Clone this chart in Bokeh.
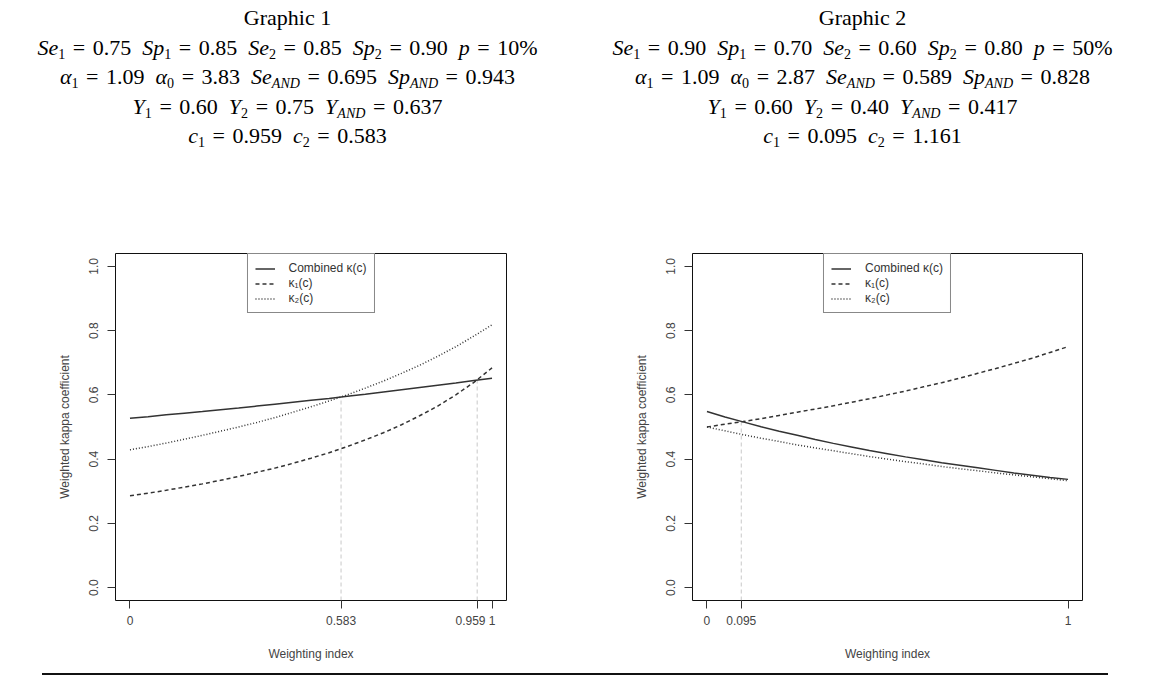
from bokeh.plotting import figure
from bokeh.models import Div, FixedTicker, Range1d, Legend, LegendItem
from bokeh.layouts import column, row
from bokeh.embed import file_html
from bokeh.resources import INLINE

# ---------------- data ----------------
c_grid = [0.00, 0.05, 0.10, 0.15, 0.20, 0.25, 0.30, 0.35, 0.40, 0.45, 0.50,
          0.55, 0.60, 0.65, 0.70, 0.75, 0.80, 0.85, 0.90, 0.95, 1.00]

g1_combined = [0.527, 0.532, 0.538, 0.543, 0.548, 0.554, 0.559, 0.565, 0.571, 0.577, 0.583,
               0.589, 0.596, 0.602, 0.609, 0.616, 0.623, 0.630, 0.637, 0.645, 0.652]
g1_kappa1 = [0.286, 0.294, 0.303, 0.313, 0.323, 0.334, 0.346, 0.359, 0.372, 0.387, 0.403,
             0.420, 0.439, 0.460, 0.482, 0.507, 0.535, 0.565, 0.600, 0.639, 0.684]
g1_kappa2 = [0.429, 0.439, 0.450, 0.462, 0.474, 0.487, 0.500, 0.514, 0.529, 0.546, 0.563,
             0.581, 0.600, 0.621, 0.643, 0.667, 0.692, 0.720, 0.750, 0.783, 0.818]
g1_cross_c = [0.583, 0.959]
g1_cross_k = [0.594, 0.646]
g1_xticks = [0.0, 0.583, 0.959, 1.0]
g1_xlabels = ["0", "0.583", "0.959\u00a0\u00a0\u00a0\u00a0", "1"]

g2_combined = [0.548, 0.531, 0.516, 0.501, 0.487, 0.474, 0.461, 0.449, 0.438, 0.427, 0.417,
               0.407, 0.398, 0.389, 0.381, 0.373, 0.365, 0.357, 0.350, 0.343, 0.337]
g2_kappa1 = [0.500, 0.509, 0.517, 0.526, 0.536, 0.546, 0.556, 0.566, 0.577, 0.588, 0.600,
             0.612, 0.625, 0.638, 0.652, 0.667, 0.682, 0.698, 0.714, 0.732, 0.750]
g2_kappa2 = [0.500, 0.488, 0.476, 0.465, 0.455, 0.444, 0.435, 0.426, 0.417, 0.408, 0.400,
             0.392, 0.385, 0.377, 0.370, 0.364, 0.357, 0.351, 0.345, 0.339, 0.333]
g2_cross_c = [0.095]
g2_cross_k = [0.517]
g2_xticks = [0.0, 0.095, 1.0]
g2_xlabels = ["\u00a00\u00a0", "0.095", "1"]

y_ticks = [0.0, 0.2, 0.4, 0.6, 0.8, 1.0]
y_labels = ["0.0", "0.2", "0.4", "0.6", "0.8", "1.0"]

legend_labels = ["Combined \u03ba(c)", "\u03ba\u2081(c)", "\u03ba\u2082(c)"]

g1_title = "Graphic 1"
g1_se = ["0.75", "0.85"]
g1_sp = ["0.85", "0.90"]
g1_p = "10%"
g1_alpha = ["1.09", "3.83"]
g1_and = ["0.695", "0.943"]
g1_youden = ["0.60", "0.75", "0.637"]
g1_c = ["0.959", "0.583"]

g2_title = "Graphic 2"
g2_se = ["0.90", "0.60"]
g2_sp = ["0.70", "0.80"]
g2_p = "50%"
g2_alpha = ["1.09", "2.87"]
g2_and = ["0.589", "0.828"]
g2_youden = ["0.60", "0.40", "0.417"]
g2_c = ["0.095", "1.161"]

# ---------------- styling ----------------
INK = "#333333"
SANS = "Liberation Sans"
SERIF = "'Liberation Serif',serif"
SUB = ('<sub style="font-size:64%;vertical-align:-0.28em;line-height:0;'
       'font-family:' + SERIF + '">')
SP = "&nbsp;&nbsp;"
EQ = ' <span style="padding:0 2px">=</span> '


def sub(t):
    return SUB + t + "</sub>"


def header_html(title, se, sp, p, alpha, andv, youd, cc):
    l1 = title
    l2 = (f"<i>Se</i>{sub('1')}{EQ}{se[0]}{SP}<i>Sp</i>{sub('1')}{EQ}{sp[0]}{SP}"
          f"<i>Se</i>{sub('2')}{EQ}{se[1]}{SP}<i>Sp</i>{sub('2')}{EQ}{sp[1]}{SP}<i>p</i>{EQ}{p}")
    l3 = (f"<i>\u03b1</i>{sub('1')}{EQ}{alpha[0]}{SP}<i>\u03b1</i>{sub('0')}{EQ}{alpha[1]}{SP}"
          f"<i>Se</i>{sub('<i>AND</i>')}{EQ}{andv[0]}{SP}<i>Sp</i>{sub('<i>AND</i>')}{EQ}{andv[1]}")
    l4 = (f"<i>Y</i>{sub('1')}{EQ}{youd[0]}{SP}<i>Y</i>{sub('2')}{EQ}{youd[1]}{SP}"
          f"<i>Y</i>{sub('<i>AND</i>')}{EQ}{youd[2]}")
    l5 = f"<i>c</i>{sub('1')}{EQ}{cc[0]}{SP}<i>c</i>{sub('2')}{EQ}{cc[1]}"
    body = "<br>".join([l1, l2, l3, l4, l5])
    return ('<div style="font-family:' + SERIF + ';font-size:22px;'
            'line-height:29.5px;text-align:center;color:#000;padding-top:3px;'
            'white-space:nowrap;width:575px">' + body + "</div>")


HEADER_H = 148
FIG_H = 516
BORDER_TOP = 253 - HEADER_H
FRAME_H = 347
FS = "12px"


def make_fig(combined, k1, k2, cross_c, cross_k, xticks, xlabels, left, right):
    p = figure(width=575, height=FIG_H, x_range=Range1d(-0.04, 1.04),
               y_range=Range1d(-0.04, 1.04), output_backend="svg",
               toolbar_location=None, min_border_left=left, min_border_right=right,
               min_border_top=BORDER_TOP, min_border_bottom=FIG_H - BORDER_TOP - FRAME_H)
    p.grid.visible = False
    p.outline_line_color = "#111111"
    p.outline_line_width = 1
    p.background_fill_color = "white"
    p.border_fill_color = "white"

    # guides
    p.segment(x0=cross_c, y0=[p.y_range.start] * len(cross_c), x1=cross_c, y1=cross_k,
              line_color="#c8c8c8", line_width=1, line_dash="4 3")

    r0 = p.line(c_grid, combined, line_color=INK, line_width=1.5)
    r1 = p.line(c_grid, k1, line_color=INK, line_width=1.5, line_dash="4 3")
    r2 = p.line(c_grid, k2, line_color=INK, line_width=1.5, line_dash="1 2")

    legend = Legend(items=[LegendItem(label=legend_labels[0], renderers=[r0]),
                           LegendItem(label=legend_labels[1], renderers=[r1]),
                           LegendItem(label=legend_labels[2], renderers=[r2])],
                    location="top_center", margin=0, padding=7, spacing=1,
                    label_height=13, glyph_height=13, glyph_width=20,
                    label_standoff=14, label_text_font=SANS,
                    label_text_font_size=FS, label_text_color=INK,
                    border_line_color="#111111", border_line_width=1,
                    background_fill_color="white", background_fill_alpha=1.0)
    p.add_layout(legend, "center")

    for ax in (p.xaxis[0], p.yaxis[0]):
        ax.axis_line_color = None
        ax.major_tick_in = 0
        ax.major_tick_out = 8
        ax.major_tick_line_color = INK
        ax.minor_tick_line_color = None
        ax.major_label_text_font = SANS
        ax.major_label_text_font_size = FS
        ax.major_label_text_color = "#444444"
        ax.axis_label_text_font = SANS
        ax.axis_label_text_font_size = FS
        ax.axis_label_text_font_style = "normal"
        ax.axis_label_text_color = "#444444"

    p.xaxis.ticker = FixedTicker(ticks=xticks)
    p.xaxis.major_label_overrides = {t: l for t, l in zip(xticks, xlabels)}
    p.xaxis.axis_label = "Weighting index"
    p.xaxis.major_label_standoff = 5
    p.xaxis.axis_label_standoff = 16

    p.yaxis.ticker = FixedTicker(ticks=y_ticks)
    p.yaxis.major_label_overrides = {t: l for t, l in zip(y_ticks, y_labels)}
    p.yaxis.major_label_orientation = "vertical"
    p.yaxis.axis_label = "Weighted kappa coefficient"
    p.yaxis.major_label_standoff = 9
    p.yaxis.axis_label_standoff = 15
    return p


h1 = Div(text=header_html(g1_title, g1_se, g1_sp, g1_p, g1_alpha, g1_and, g1_youden, g1_c),
         width=575, height=HEADER_H, margin=0)
h2 = Div(text=header_html(g2_title, g2_se, g2_sp, g2_p, g2_alpha, g2_and, g2_youden, g2_c),
         width=575, height=HEADER_H, margin=0)

f1 = make_fig(g1_combined, g1_kappa1, g1_kappa2, g1_cross_c, g1_cross_k,
              g1_xticks, g1_xlabels, 115, 69)
f2 = make_fig(g2_combined, g2_kappa1, g2_kappa2, g2_cross_c, g2_cross_k,
              g2_xticks, g2_xlabels, 117, 68)

rule = Div(text="", width=1066, height=2, margin=(9, 0, 0, 42),
           styles={"background-color": "#111111"})

layout = column(row(h1, h2, spacing=0), row(f1, f2, spacing=0), rule, spacing=0)

open("out.html", "w").write(file_html(layout, INLINE))
